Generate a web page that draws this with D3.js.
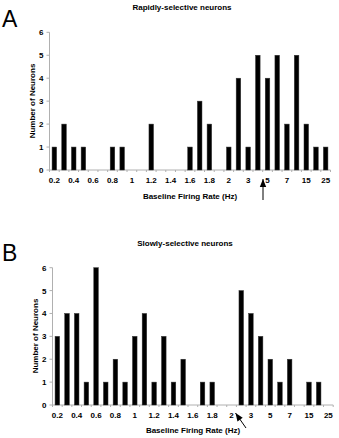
<!DOCTYPE html>
<html><head><meta charset="utf-8">
<script src="https://cdn.jsdelivr.net/npm/d3@7"></script>
<style>body{margin:0;background:#fff}svg{display:block}text{font-family:"Liberation Sans",Arial,sans-serif}</style>
</head><body>
<script>
const categories = ["0.2","0.3","0.4","0.5","0.6","0.7","0.8","0.9","1","1.1","1.2","1.3","1.4","1.5","1.6","1.7","1.8","1.9","2","2.5","3","4","5","6","7","10","15","20","25"];
const tickLabels = ["0.2","0.4","0.6","0.8","1","1.2","1.4","1.6","1.8","2","3","5","7","15","25"];
const rapidValues = [1,2,1,1,0,0,1,1,0,0,2,0,0,0,1,3,2,0,1,4,1,5,4,5,2,5,2,1,1];
const slowValues  = [3,4,4,1,6,1,2,1,3,4,1,3,1,2,0,1,1,0,0,5,4,3,2,1,2,0,1,1,0];
const yTicks = [0,1,2,3,4,5,6];

const svg = d3.select("body").append("svg").attr("width",339).attr("height",438);

function panel(o){
  const g = svg.append("g");
  const x = d3.scaleBand().domain(categories).range([o.x0,o.x1]).padding(0);
  const y = d3.scaleLinear().domain([0,6]).range([o.y0,o.y1]);
  const bw = x.step()*0.47;
  // letter & title
  g.append("text").attr("x",o.lx).attr("y",o.ly).attr("font-size",o.lfs).text(o.letter);
  g.append("text").attr("x",o.tx).attr("y",o.ty).attr("text-anchor","middle").attr("font-size",8).attr("font-weight","bold").text(o.title);
  // axes lines
  g.append("line").attr("x1",o.x0).attr("x2",o.x0).attr("y1",y(6)).attr("y2",y(0)).attr("stroke","#b0b0b0").attr("stroke-width",1);
  g.append("line").attr("x1",o.x0).attr("x2",o.x1).attr("y1",y(0)).attr("y2",y(0)).attr("stroke","#b0b0b0").attr("stroke-width",1);
  // y ticks
  yTicks.forEach(t=>{
    g.append("line").attr("x1",o.x0-3).attr("x2",o.x0).attr("y1",y(t)).attr("y2",y(t)).attr("stroke","#b0b0b0");
    g.append("text").attr("x",o.x0-6).attr("y",y(t)+3).attr("text-anchor","end").attr("font-size",8).attr("font-weight","bold").text(t);
  });
  // x ticks at boundaries
  categories.forEach(c=>{
    g.append("line").attr("x1",x(c)).attr("x2",x(c)).attr("y1",y(0)).attr("y2",y(0)+2).attr("stroke","#b0b0b0");
  });
  g.append("line").attr("x1",o.x1).attr("x2",o.x1).attr("y1",y(0)).attr("y2",y(0)+2).attr("stroke","#b0b0b0");
  tickLabels.forEach(c=>{
    g.append("text").attr("x",x(c)+x.step()/2).attr("y",o.tly).attr("text-anchor","middle").attr("font-size",8).attr("font-weight","bold").text(c);
  });
  // bars
  g.selectAll("rect.bar").data(o.values.map((v,i)=>({c:categories[i],v}))).enter().append("rect")
    .attr("x",d=>x(d.c)+x.step()/2-bw/2).attr("width",bw)
    .attr("y",d=>y(d.v)).attr("height",d=>y(0)-y(d.v))
    .attr("fill","#000").attr("stroke","#333").attr("stroke-width",0.5);
  // axis titles
  g.append("text").attr("x",o.xtx).attr("y",o.xty).attr("text-anchor","middle").attr("font-size",8).attr("font-weight","bold").text("Baseline Firing Rate (Hz)");
  g.append("text").attr("transform",`translate(${o.ytx},${o.yty}) rotate(-90)`).attr("text-anchor","middle").attr("font-size",8).attr("font-weight","bold").text("Number of Neurons");
  return {x,y};
}

panel({letter:"A",lx:2,ly:27,lfs:23,title:"Rapidly-selective neurons",tx:182,ty:10,
  x0:49.5,x1:330.5,y0:170,y1:32.3,tly:183,xtx:190,xty:199,ytx:35,yty:101,values:rapidValues});
panel({letter:"B",lx:2,ly:261,lfs:23,title:"Slowly-selective neurons",tx:185,ty:246,
  x0:52.5,x1:333.2,y0:405,y1:267.7,tly:418,xtx:193,xty:433,ytx:38,yty:336,values:slowValues});

// arrows
function arrow(x1,y1,x2,y2){
  svg.append("line").attr("x1",x1).attr("y1",y1).attr("x2",x2).attr("y2",y2).attr("stroke","#000").attr("stroke-width",1);
  const a = Math.atan2(y2-y1,x2-x1), L=8, W=3.2;
  const bx = x2 - L*Math.cos(a), by = y2 - L*Math.sin(a);
  const px = -Math.sin(a)*W, py = Math.cos(a)*W;
  svg.append("path").attr("d",`M${x2},${y2}L${bx+px},${by+py}L${bx-px},${by-py}Z`).attr("fill","#000");
}
arrow(263,200,263,179);
arrow(246,428,235.5,413);
</script>
</body></html>
